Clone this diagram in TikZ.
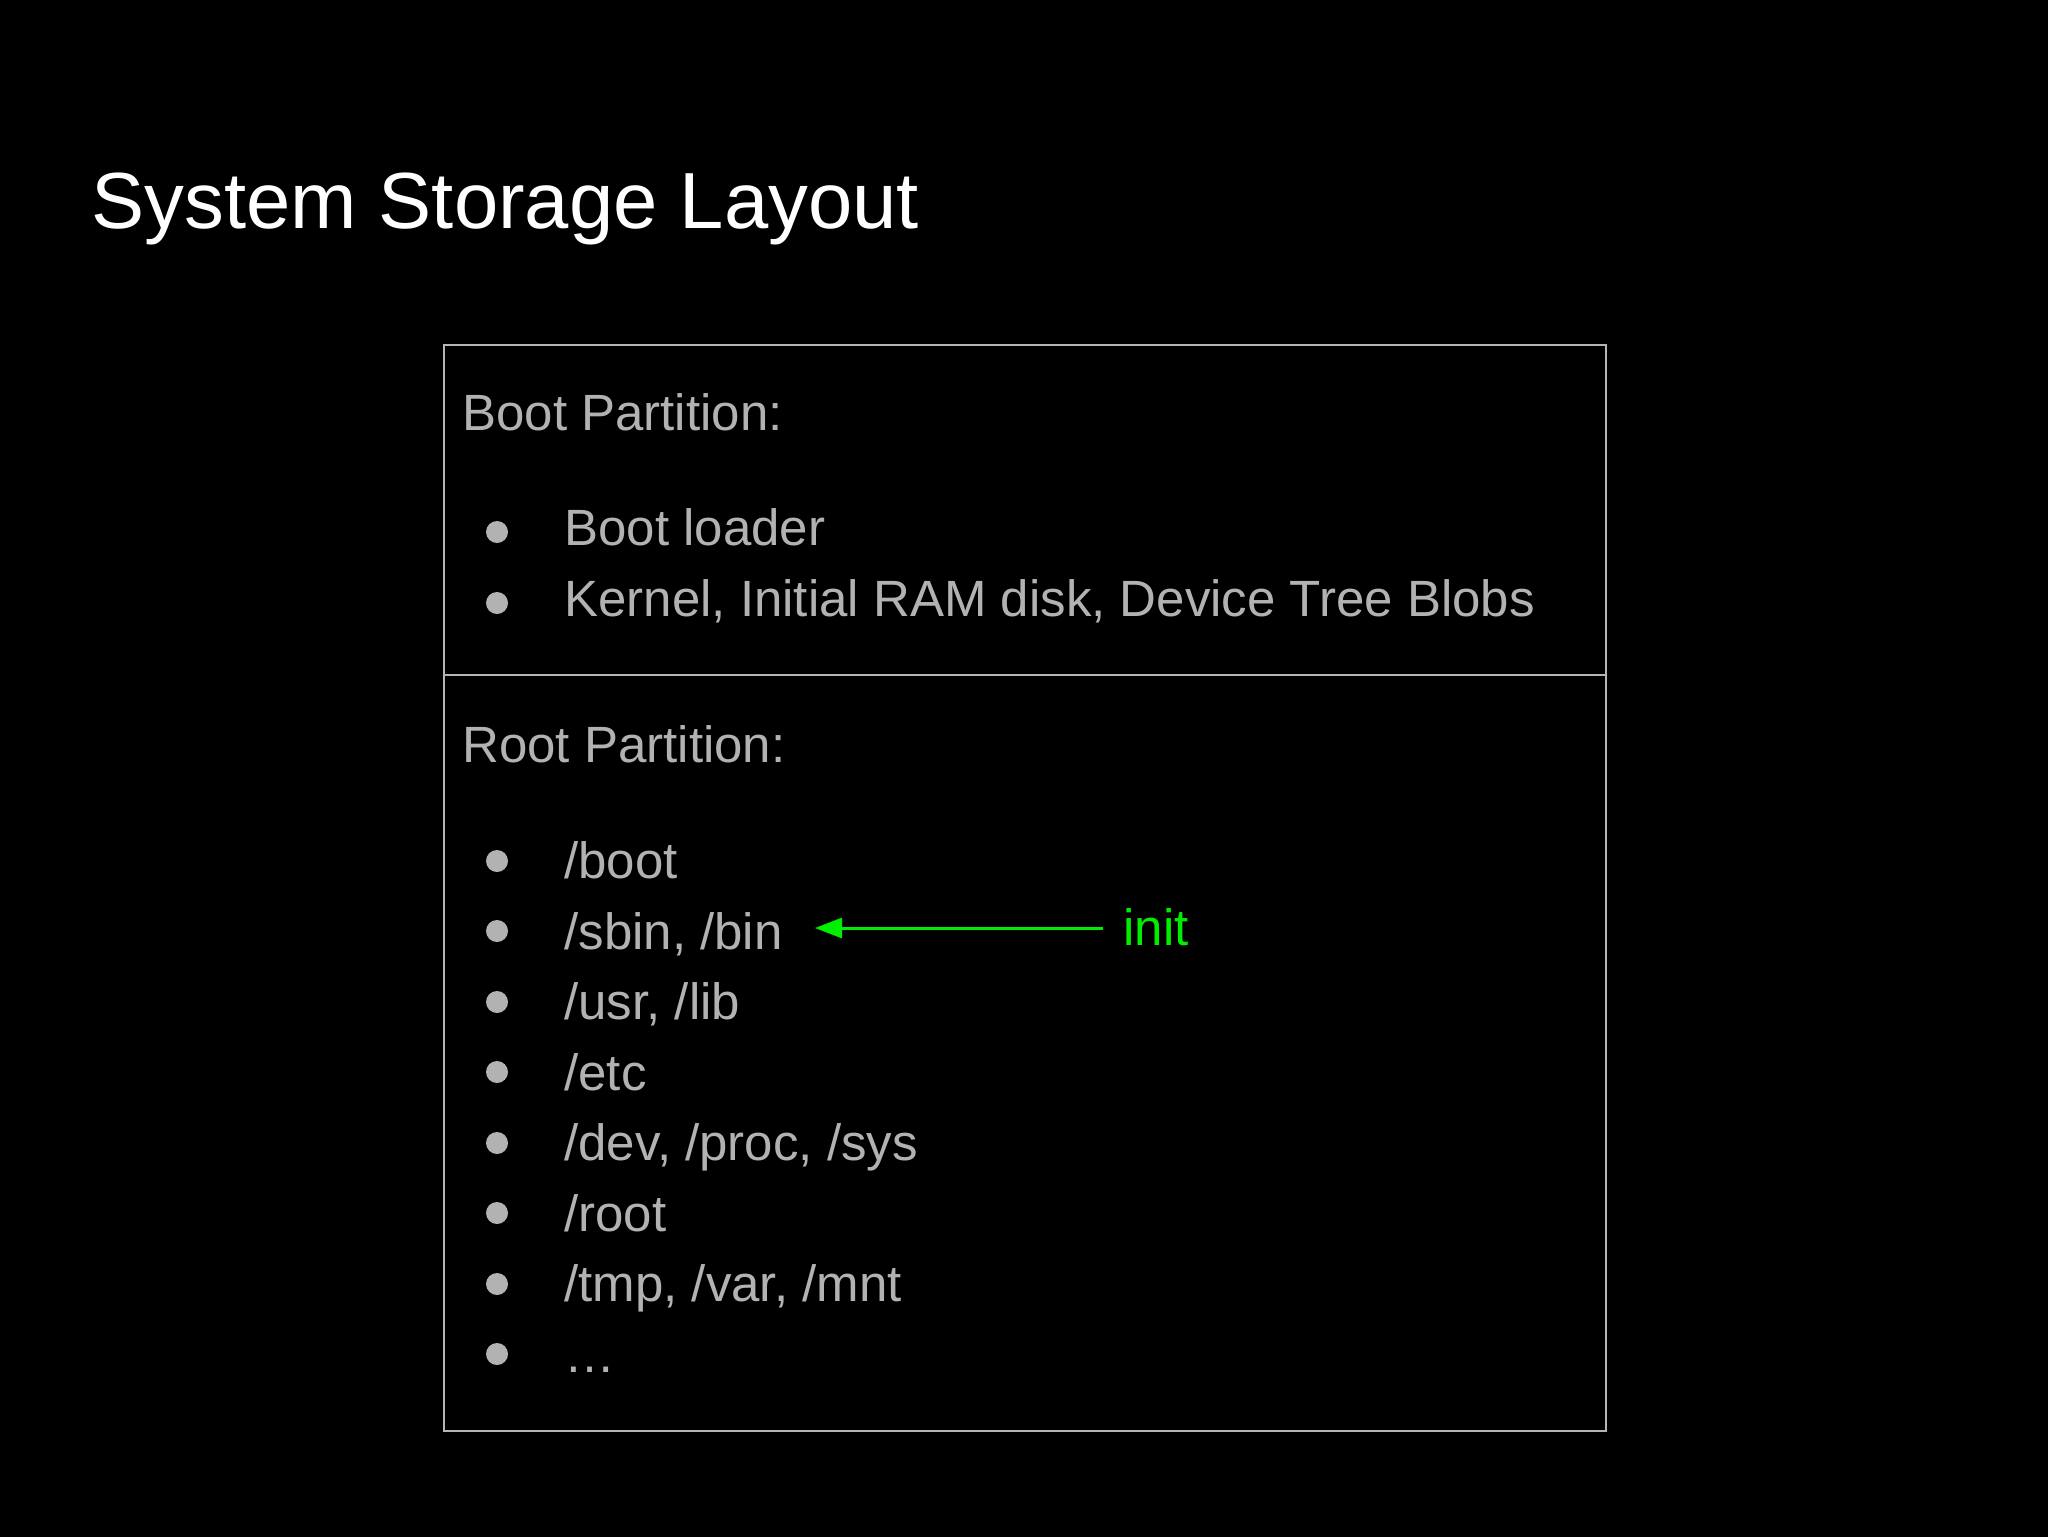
\documentclass[tikz,border=0pt]{standalone}
\usepackage{fontspec}
\setmainfont{Liberation Sans}
\usetikzlibrary{arrows.meta}
\definecolor{bg}{RGB}{0,0,0}
\definecolor{txtgray}{RGB}{178,178,178}
\definecolor{linegray}{RGB}{180,180,180}
\definecolor{initgreen}{RGB}{0,238,0}
\tikzset{
  titletext/.style={anchor=base west, inner sep=0, text=white, font=\fontsize{39.8bp}{47bp}\selectfont},
  bodytext/.style={anchor=base west, inner sep=0, text=txtgray, font=\fontsize{25.5bp}{30bp}\selectfont},
  greentext/.style={anchor=base west, inner sep=0, text=initgreen, font=\fontsize{25.5bp}{30bp}\selectfont},
  bul/.style={circle, fill=txtgray, inner sep=0, minimum size=11bp},
  partbox/.style={draw=linegray, line width=1bp, rectangle, inner sep=0, anchor=north west, minimum width=581bp},
  initarrow/.style={draw=initgreen, line width=1.5bp, -{Triangle[length=13.5bp,width=10bp]}}
}
\begin{document}
\begin{tikzpicture}[x=0.5bp, y=-0.5bp]
\useasboundingbox (0,0) rectangle (2048,1536);
\fill[bg] (-20,-20) rectangle (2068,1556);
\node[titletext] (title) at (91,228) {System Storage Layout};
% partitions
\node[partbox, minimum height=165bp] (bootpart) at (443,344) {};
\node[partbox, minimum height=378bp] (rootpart) at (443,674) {};
% boot partition
\node[bodytext] (boothdr) at (462,430) {Boot Partition:};
\node[bul] (b1) at (497,532) {};
\node[bodytext] (bootloader) at (564,545) {Boot loader};
\node[bul] (b2) at (497,603) {};
\node[bodytext] (kernel) at (564,616) {Kernel, Initial RAM disk, Device Tree Blobs};
% root partition
\node[bodytext] (roothdr) at (462,762) {Root Partition:};
\node[bul] (r1) at (497,861) {};
\node[bodytext] (boot) at (564,878) {/boot};
\node[bul] (r2) at (497,931) {};
\node[bodytext] (sbin) at (564,949) {/sbin, /bin};
\node[bul] (r3) at (497,1002) {};
\node[bodytext] (usr) at (564,1019) {/usr, /lib};
\node[bul] (r4) at (497,1072) {};
\node[bodytext] (etc) at (564,1090) {/etc};
\node[bul] (r5) at (497,1143) {};
\node[bodytext] (dev) at (564,1160) {/dev, /proc, /sys};
\node[bul] (r6) at (497,1213) {};
\node[bodytext] (root) at (564,1231) {/root};
\node[bul] (r7) at (497,1284) {};
\node[bodytext] (tmp) at (564,1301) {/tmp, /var, /mnt};
\node[bul] (r8) at (497,1354) {};
\node[bodytext] (dots) at (564,1372) {…};
% init arrow
\node[greentext] (init) at (1123,945) {init};
\coordinate (astart) at (1103,928);
\coordinate (aend) at (815,928);
\draw[initarrow] (astart) -- (aend);
\end{tikzpicture}
\end{document}
